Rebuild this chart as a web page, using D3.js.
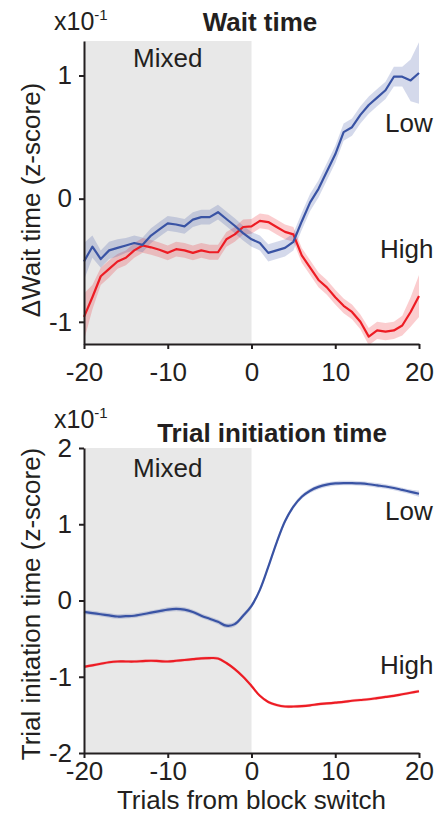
<!DOCTYPE html>
<html lang="en">
<head>
<meta charset="utf-8">
<title>Wait time / Trial initiation time</title>
<script src="https://d3js.org/d3.v7.min.js"></script>
<style>
  body { margin: 0; background: #fff; }
  text { font-family: "Liberation Sans", Arial, Helvetica, sans-serif; fill: #231f20; }
</style>
</head>
<body>
<svg id="chart" width="437" height="814"></svg>
<script>
// trials relative to the block switch
const trials = [-20,-19,-18,-17,-16,-15,-14,-13,-12,-11,-10,-9,-8,-7,-6,-5,-4,-3,-2,-1,
                0,1,2,3,4,5,6,7,8,9,10,11,12,13,14,15,16,17,18,19,20];

// wait time (x10^-1 z-score)
const waitLow = [-0.51,-0.39,-0.49,-0.42,-0.40,-0.38,-0.36,-0.375,-0.30,-0.25,-0.20,-0.21,-0.225,-0.17,-0.15,-0.15,-0.11,-0.165,-0.22,-0.28,
                 -0.33,-0.36,-0.44,-0.42,-0.40,-0.35,-0.185,-0.03,0.08,0.22,0.36,0.54,0.58,0.68,0.76,0.82,0.88,0.99,0.99,0.96,1.02];
const waitLowSem = [0.15,0.09,0.07,0.07,0.07,0.06,0.06,0.06,0.06,0.06,0.06,0.06,0.06,0.06,0.06,0.06,0.06,0.06,0.06,0.06,
                    0.06,0.06,0.07,0.07,0.07,0.07,0.07,0.07,0.07,0.07,0.07,0.07,0.07,0.07,0.07,0.07,0.07,0.08,0.08,0.17,0.25];
const waitHigh = [-0.96,-0.80,-0.63,-0.57,-0.51,-0.48,-0.42,-0.38,-0.395,-0.415,-0.44,-0.41,-0.42,-0.44,-0.42,-0.435,-0.435,-0.33,-0.29,-0.23,
                  -0.225,-0.18,-0.19,-0.23,-0.27,-0.29,-0.46,-0.56,-0.66,-0.72,-0.80,-0.87,-0.92,-1.00,-1.12,-1.07,-1.08,-1.07,-1.03,-0.92,-0.79];
const waitHighSem = [0.19,0.10,0.07,0.07,0.06,0.06,0.06,0.06,0.06,0.06,0.06,0.06,0.06,0.06,0.06,0.06,0.06,0.06,0.06,0.06,
                     0.06,0.06,0.06,0.06,0.06,0.06,0.06,0.06,0.06,0.06,0.06,0.06,0.06,0.06,0.07,0.07,0.07,0.07,0.08,0.12,0.17];

// trial initiation time (x10^-1 z-score)
const initLow = [-0.15,-0.165,-0.18,-0.195,-0.21,-0.205,-0.20,-0.18,-0.16,-0.14,-0.12,-0.11,-0.12,-0.15,-0.20,-0.24,-0.28,-0.33,-0.31,-0.20,
                 -0.07,0.14,0.44,0.76,1.04,1.23,1.36,1.44,1.49,1.52,1.535,1.54,1.54,1.535,1.525,1.51,1.495,1.475,1.45,1.425,1.40];
const initLowSem = [0.03,0.03,0.03,0.03,0.03,0.03,0.03,0.03,0.03,0.03,0.03,0.03,0.03,0.03,0.03,0.03,0.03,0.03,0.03,0.03,
                    0.03,0.03,0.03,0.03,0.03,0.03,0.03,0.03,0.03,0.03,0.03,0.03,0.03,0.03,0.03,0.03,0.03,0.03,0.03,0.03,0.04];
const initHigh = [-0.87,-0.85,-0.83,-0.81,-0.80,-0.80,-0.80,-0.795,-0.79,-0.795,-0.80,-0.79,-0.78,-0.77,-0.76,-0.755,-0.76,-0.82,-0.90,-1.00,
                  -1.12,-1.25,-1.33,-1.37,-1.39,-1.39,-1.385,-1.375,-1.36,-1.35,-1.34,-1.33,-1.315,-1.305,-1.295,-1.28,-1.265,-1.25,-1.23,-1.21,-1.19];
const initHighSem = [0.02,0.02,0.02,0.02,0.02,0.02,0.02,0.02,0.02,0.02,0.02,0.02,0.02,0.02,0.02,0.02,0.02,0.02,0.02,0.02,
                     0.02,0.02,0.02,0.02,0.02,0.02,0.02,0.02,0.02,0.02,0.02,0.02,0.02,0.02,0.02,0.02,0.02,0.02,0.02,0.02,0.02];

const xTicks = [-20, -10, 0, 10, 20];
const waitTicks = [-1, 0, 1];
const initTicks = [-2, -1, 0, 1, 2];

const blue = "#3953a4", red = "#ed1c24", ink = "#231f20";
const fs = 26;

const svg = d3.select("#chart");
const x = d3.scaleLinear().domain([-20, 20]).range([84, 419]);

function panel(o) {
  const y = d3.scaleLinear().domain(o.yDomain).range(o.yRange);
  const g = svg.append("g");

  // mixed block shading
  g.append("rect")
    .attr("x", x(-20)).attr("width", x(0) - x(-20))
    .attr("y", o.yRange[1]).attr("height", o.yRange[0] - o.yRange[1])
    .attr("fill", "#e8e8e8");

  o.series.forEach(s => {
    const pts = trials.map((t, i) => ({t: t, v: s.values[i], e: s.sem[i]}));
    const area = d3.area().x(d => x(d.t)).y0(d => y(d.v - d.e)).y1(d => y(d.v + d.e)).curve(o.curve);
    const line = d3.line().x(d => x(d.t)).y(d => y(d.v)).curve(o.curve);
    g.append("path").attr("d", area(pts)).attr("fill", s.color).attr("opacity", 0.22);
    s.pts = pts; s.line = line;
  });
  o.series.forEach(s => {
    g.append("path").attr("d", s.line(s.pts))
      .attr("fill", "none").attr("stroke", s.color).attr("stroke-width", 2.2)
      .attr("stroke-linejoin", "round");
  });

  // plain hyphen for negatives, as in the original
  const fmt = d => String(d);
  const xa = g.append("g")
    .attr("transform", "translate(0," + o.yRange[0] + ")")
    .call(d3.axisBottom(x).tickValues(xTicks).tickFormat(fmt)
      .tickSize(5).tickSizeOuter(0).tickPadding(o.xPad));
  const ya = g.append("g")
    .attr("transform", "translate(" + x(-20) + ",0)")
    .call(d3.axisLeft(y).tickValues(o.yTicks).tickFormat(fmt)
      .tickSize(5).tickSizeOuter(0).tickPadding(7));
  [xa, ya].forEach(a => {
    a.attr("font-size", fs).attr("color", ink);
    a.selectAll("path, line").attr("stroke-width", 2);
  });

  // title
  g.append("text").attr("x", o.titleX).attr("y", o.titleY)
    .attr("text-anchor", "middle").attr("font-size", fs).attr("font-weight", "bold")
    .text(o.title);

  // exponent
  const ex = g.append("text").attr("x", 54).attr("y", o.expY).attr("font-size", 25);
  ex.append("tspan").text("x10");
  ex.append("tspan").attr("font-size", 15).attr("dy", -10).text("-1");

  // y label
  g.append("text")
    .attr("transform", "translate(40," + o.yLabelY + ") rotate(-90)")
    .attr("text-anchor", "middle").attr("font-size", fs)
    .text(o.yLabel);

  g.append("text").attr("x", x(-10)).attr("y", o.mixedY)
    .attr("text-anchor", "middle").attr("font-size", fs).text("Mixed");
  g.append("text").attr("x", 385).attr("y", o.lowY).attr("font-size", fs).text("Low");
  g.append("text").attr("x", 380).attr("y", o.highY).attr("font-size", fs).text("High");
}

panel({
  yDomain: [-1.18, 1.28], yRange: [344, 41], yTicks: waitTicks, xPad: 14,
  curve: d3.curveLinear,
  series: [
    {values: waitHigh, sem: waitHighSem, color: red},
    {values: waitLow, sem: waitLowSem, color: blue}
  ],
  title: "Wait time", titleX: 260, titleY: 31, expY: 30,
  yLabel: "\u0394Wait time (z-score)", yLabelY: 200,
  mixedY: 67, lowY: 132, highY: 258
});

panel({
  yDomain: [-2, 2], yRange: [753, 448], yTicks: initTicks, xPad: 4,
  curve: d3.curveCatmullRom,
  series: [
    {values: initHigh, sem: initHighSem, color: red},
    {values: initLow, sem: initLowSem, color: blue}
  ],
  title: "Trial initiation time", titleX: 272, titleY: 442, expY: 428,
  yLabel: "Trial initation time (z-score)", yLabelY: 604,
  mixedY: 477, lowY: 520, highY: 674
});

svg.append("text").attr("x", x(0)).attr("y", 809)
  .attr("text-anchor", "middle").attr("font-size", fs)
  .text("Trials from block switch");
</script>
</body>
</html>
